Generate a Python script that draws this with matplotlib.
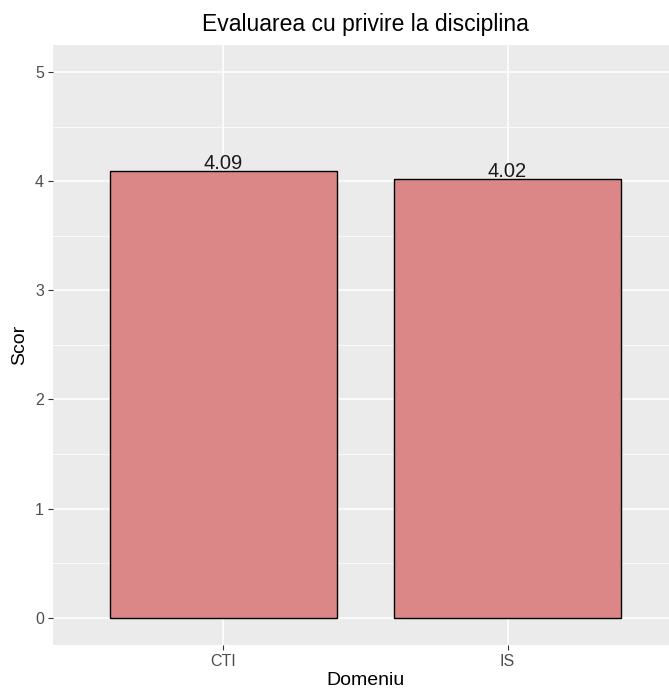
import matplotlib.pyplot as plt
import numpy as np

plt.rcParams['font.family'] = ['Liberation Sans', 'DejaVu Sans']

domenii = ["CTI", "IS"]
scoruri = [4.09, 4.02]
etichete = ["4.09", "4.02"]
yticks = [0, 1, 2, 3, 4, 5]

fig = plt.figure(figsize=(6.69, 6.88), dpi=100)
ax = fig.add_axes([53/669, 43/688, (678-53)/669, (645-44.7)/688])
ax.set_facecolor("#EBEBEB")

x = np.arange(len(domenii))
ax.bar(x, scoruri, width=0.8, color="#DB8787", edgecolor="black", linewidth=1.0, zorder=3)
for xi, v, t in zip(x, scoruri, etichete):
    ax.text(xi, v - 0.02, t, ha="center", va="bottom", fontsize=14.5, color="#1A1A1A", zorder=4)

ax.set_xlim(-0.6, 1.6)
ax.set_ylim(-0.25, 5.25)
ax.set_xticks(x)
ax.set_xticklabels(domenii)
ax.set_yticks(yticks)
ax.set_yticks(np.arange(0.5, 5, 1), minor=True)
ax.grid(which="major", color="white", linewidth=1.1, zorder=0)
ax.grid(which="minor", axis="y", color="white", linewidth=0.55, zorder=0)
ax.set_axisbelow(True)
for s in ax.spines.values():
    s.set_visible(False)
ax.tick_params(which="major", length=3.5, width=0.8, color="#333333", labelcolor="#4D4D4D", labelsize=11.5, pad=3)
ax.tick_params(which="minor", length=0)

ax.set_xlabel("Domeniu", fontsize=14, labelpad=2)
ax.set_ylabel("Scor", fontsize=14, labelpad=5)
ax.set_title("Evaluarea cu privire la disciplina", fontsize=16.5, pad=10)

fig.savefig("out.png", dpi=100)
